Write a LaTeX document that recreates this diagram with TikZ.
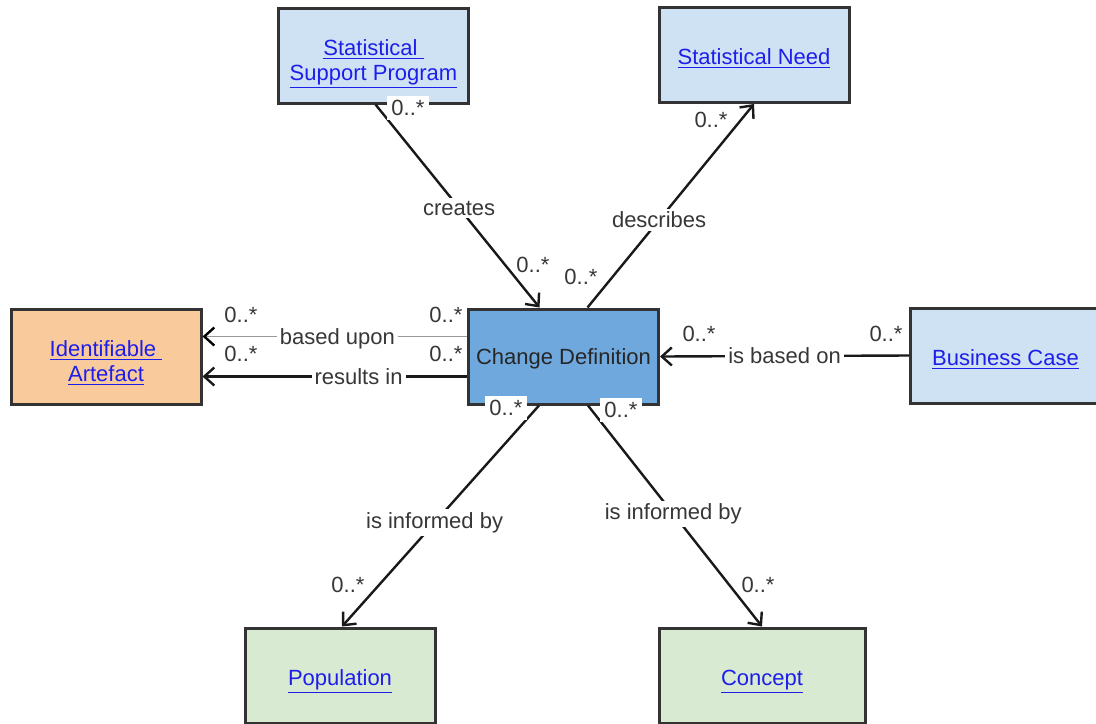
\documentclass[tikz,border=0pt]{standalone}
\usepackage{fontspec}
\setmainfont{Liberation Sans}
\usetikzlibrary{arrows.meta,calc}
\definecolor{boxblue}{RGB}{207,226,243}
\definecolor{boxorange}{RGB}{249,203,156}
\definecolor{boxgreen}{RGB}{217,234,211}
\definecolor{changeblue}{RGB}{111,168,220}
\definecolor{linkblue}{RGB}{30,30,235}
\definecolor{edgegray}{RGB}{51,51,51}
\definecolor{textgray}{RGB}{55,55,55}

\tikzset{
  cls/.style={draw=edgegray, line width=1.5pt, minimum width=95pt, minimum height=47.5pt,
    align=center, inner sep=0pt, text depth=0pt, text height=9.5pt, text=linkblue,
    font=\fontsize{11}{12.5}\selectfont},
  twoline/.style={text height=24.5pt},
  assoc/.style={->, line width=1.2pt, draw=black!90},
  lbl/.style={fill=white, text=textgray, inner sep=1.5pt, font=\fontsize{11}{12.5}\selectfont},
  mult/.style={text=textgray, inner sep=2pt, font=\fontsize{11}{12.5}\selectfont},
}

\begin{document}
\begin{tikzpicture}[x=0.5pt, y=-0.5pt, >={Straight Barb[length=5pt,width=9pt]}]
\useasboundingbox (0,0) rectangle (1096,723);
\clip (0,0) rectangle (1096,723);

% Classes
\node[cls, twoline, fill=boxblue] (ssp) at (373.5,55.5) {\underline{Statistical\ }\\\underline{Support Program}};
\node[cls, fill=boxblue] (need) at (754,55) {\underline{Statistical Need}};
\node[cls, twoline, fill=boxorange] (artefact) at (106,356.5) {\underline{Identifiable\ }\\\underline{Artefact}};
\node[cls, fill=changeblue, text=black!85, text height=8pt] (change) at (563.5,356.5) {Change Definition};
\node[cls, fill=boxblue] (business) at (1005.5,355.5) {\underline{Business Case}};
\node[cls, fill=boxgreen] (population) at (340,675.5) {\underline{Population}};
\node[cls, fill=boxgreen, minimum width=103pt] (concept) at (762,675.5) {\underline{Concept}};

% Associations
\draw[assoc] ($(ssp.south)+(2,0)$) -- ($(change.north)+(-24,0)$) node[lbl, pos=0.51] (creates) {creates};
\draw[assoc] ($(change.north)+(24,0)$) -- (need.south) node[lbl, pos=0.43] (describes) {describes};
\draw[-{Straight Barb[length=5pt,width=9pt,line width=1.2pt,black]}, draw=black!40, line width=0.6pt]
  ($(change.west)+(0,-20)$) -- ($(artefact.east)+(0,-20)$) node[lbl, pos=0.49, yshift=-1pt] (basedupon) {based upon};
\draw[assoc] ($(change.west)+(0,20)$) -- ($(artefact.east)+(0,20)$) node[lbl, pos=0.41] (resultsin) {results in};
\draw[assoc] (business.west) -- (change.east) node[lbl, pos=0.5] (basedon) {is based on};
\draw[assoc] ($(change.south)+(-24.5,0)$) -- ($(population.north)+(2,0)$) node[lbl, pos=0.53] (informedpop) {is informed by};
\draw[assoc] ($(change.south)+(24.5,0)$) -- (concept.north) node[lbl, pos=0.49] (informedcon) {is informed by};

% Multiplicities
\node[mult, fill=white] (m-ssp) at (408,108) {0..*};
\node[mult] (m-create) at (533,265) {0..*};
\node[mult] (m-descr) at (581,277) {0..*};
\node[mult] (m-need) at (711,120) {0..*};
\node[mult] (m-upon-a) at (241,315) {0..*};
\node[mult] (m-upon-c) at (446,315) {0..*};
\node[mult] (m-res-a) at (241,354) {0..*};
\node[mult] (m-res-c) at (446,354) {0..*};
\node[mult] (m-on-c) at (699,334) {0..*};
\node[mult] (m-on-b) at (886,334) {0..*};
\node[mult, fill=white] (m-popsrc) at (506,408) {0..*};
\node[mult, fill=white] (m-consrc) at (621,410) {0..*};
\node[mult] (m-pop) at (348,585) {0..*};
\node[mult] (m-con) at (758,585) {0..*};
\end{tikzpicture}
\end{document}
